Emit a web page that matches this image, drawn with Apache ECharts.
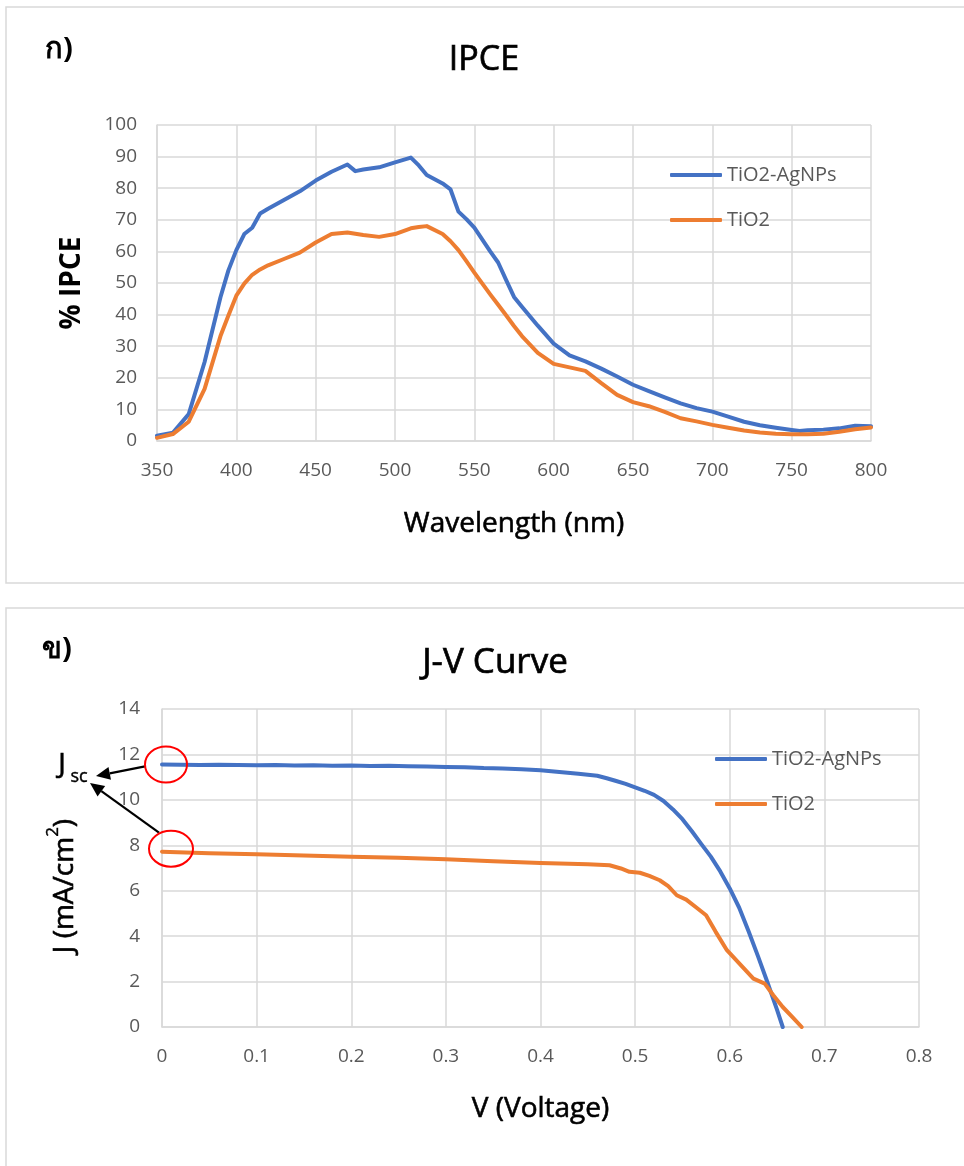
<!DOCTYPE html>
<html>
<head>
<meta charset="utf-8">
<script src="https://cdn.jsdelivr.net/npm/echarts@6/dist/echarts.min.js"></script>
<style>
  html, body { margin: 0; padding: 0; background: #ffffff; }
  #chart { width: 964px; height: 1166px; }
</style>
</head>
<body>
<div id="chart"></div>
<script>
// ---- IPCE spectra (% IPCE vs wavelength, nm) ----
const wavelength = [350, 360, 370, 380, 390, 395, 400, 405, 410, 415, 420, 430, 440, 450, 460, 470, 475, 480, 490, 500,
  510, 515, 520, 530, 535, 540, 545, 550, 560, 565, 570, 575, 580, 590, 600, 610, 620, 630, 640, 650,
  660, 670, 680, 690, 700, 710, 720, 730, 740, 750, 755, 760, 770, 780, 790, 800];
const ipceAgNPs = [1.7, 2.6, 8.5, 25.0, 45.5, 54.0, 60.4, 65.5, 67.5, 72.0, 73.5, 76.3, 79.0, 82.4, 85.2, 87.5, 85.4, 85.9, 86.6, 88.2,
  89.7, 87.2, 84.2, 81.5, 79.6, 72.6, 70.2, 67.5, 60.0, 56.5, 51.0, 45.6, 42.5, 36.5, 30.8, 27.1, 25.2, 22.9, 20.4, 17.8,
  15.8, 13.8, 11.9, 10.4, 9.3, 7.7, 6.1, 5.0, 4.2, 3.5, 3.2, 3.4, 3.6, 4.0, 4.8, 4.7];
const ipceTiO2 = [1.0, 2.2, 6.1, 16.5, 33.2, 39.7, 46.0, 49.8, 52.6, 54.3, 55.6, 57.6, 59.6, 62.8, 65.5, 66.0, 65.6, 65.2, 64.6, 65.5,
  67.3, 67.7, 68.0, 65.5, 63.2, 60.4, 56.9, 53.3, 46.4, 43.1, 39.8, 36.4, 33.2, 27.9, 24.4, 23.3, 22.2, 18.3, 14.6, 12.3,
  11.0, 9.2, 7.2, 6.2, 5.1, 4.2, 3.3, 2.7, 2.3, 2.1, 2.1, 2.1, 2.3, 2.9, 3.7, 4.3];

// ---- J-V curves (current density mA/cm2 vs voltage V) ----
const voltageAgNPs = [0, 0.02, 0.04, 0.06, 0.08, 0.10, 0.12, 0.14, 0.16, 0.18, 0.20, 0.22, 0.24, 0.26, 0.28, 0.30, 0.32, 0.34,
  0.36, 0.38, 0.40, 0.42, 0.44, 0.46, 0.47, 0.48, 0.49, 0.50, 0.51, 0.52, 0.53, 0.54, 0.55, 0.56, 0.57, 0.58, 0.59,
  0.60, 0.61, 0.62, 0.63, 0.64, 0.65, 0.656];
const currentAgNPs = [11.56, 11.55, 11.53, 11.55, 11.54, 11.52, 11.53, 11.51, 11.52, 11.50, 11.51, 11.49, 11.50, 11.48, 11.47, 11.45, 11.44, 11.40,
  11.38, 11.35, 11.30, 11.23, 11.15, 11.06, 10.95, 10.83, 10.70, 10.55, 10.40, 10.22, 9.95, 9.58, 9.15, 8.62, 8.05, 7.50, 6.85,
  6.10, 5.25, 4.20, 3.10, 1.95, 0.75, 0];
const voltageTiO2 = [0, 0.05, 0.10, 0.15, 0.20, 0.25, 0.30, 0.35, 0.40, 0.42, 0.45, 0.473, 0.485, 0.494, 0.505, 0.515, 0.526,
  0.535, 0.544, 0.554, 0.565, 0.575, 0.585, 0.597, 0.610, 0.625, 0.637, 0.646, 0.656, 0.666, 0.676];
const currentTiO2 = [7.72, 7.65, 7.60, 7.55, 7.50, 7.45, 7.38, 7.30, 7.22, 7.20, 7.17, 7.12, 6.98, 6.83, 6.79, 6.65, 6.46,
  6.20, 5.80, 5.61, 5.25, 4.92, 4.20, 3.38, 2.80, 2.13, 1.91, 1.40, 0.88, 0.45, 0];

const seriesNames = ['TiO2-AgNPs', 'TiO2'];
const BLUE = '#4472C4';
const ORANGE = '#ED7D31';
const GRID = '#D9D9D9';
const TICK = '#595959';
const FONT = '"Open Sans", "Noto Sans", sans-serif';

const pairs = (xs, ys) => xs.map((x, i) => [x, ys[i]]);

const chart = echarts.init(document.getElementById('chart'), null, { renderer: 'canvas' });

const tickLabel = (margin) => ({ color: TICK, fontSize: 19, fontFamily: FONT, margin: margin });
// a thin outline in the fill colour gives the medium-weight look of the titles
const axisName = (size, weight) => ({ color: '#000', fontSize: size, fontWeight: weight || 'normal', fontFamily: FONT,
  textBorderColor: '#000', textBorderWidth: weight === 'bold' ? 0 : 0.6 });

function valueAxis(opts) {
  return Object.assign({
    type: 'value',
    axisTick: { show: false },
    axisLine: { show: true, lineStyle: { color: GRID, width: 1.5 } },
    splitLine: { show: true, lineStyle: { color: GRID, width: 1.5 } },
    axisLabel: tickLabel(20),
    nameLocation: 'middle',
    nameTextStyle: axisName(28)
  }, opts);
}

function lineSeries(name, data, color, gridIdx) {
  return {
    name: name, type: 'line', xAxisIndex: gridIdx, yAxisIndex: gridIdx,
    data: data, showSymbol: false, symbol: 'none', smooth: false,
    lineStyle: { color: color, width: 4, cap: 'round', join: 'round' },
    itemStyle: { color: color }, z: 3
  };
}

function legendAt(left, top) {
  return {
    data: seriesNames, orient: 'vertical', left: left, top: top,
    icon: 'roundRect', itemWidth: 52, itemHeight: 4, itemGap: 21,
    selectedMode: false,
    textStyle: { color: TICK, fontSize: 20, fontFamily: FONT, lineHeight: 24, padding: [0, 0, 0, 0] }
  };
}

function label(id, text, x, y, size, weight, outline) {
  return {
    id: id, type: 'text', x: x, y: y, z: 10,
    style: { text: text, fill: '#000', font: (weight || 'normal') + ' ' + size + 'px ' + FONT,
      stroke: outline ? '#000' : null, lineWidth: outline || 0,
      textAlign: 'center', textVerticalAlign: 'middle' }
  };
}

chart.setOption({
  animation: false,
  backgroundColor: '#ffffff',
  grid: [
    { left: 157, top: 125, width: 714, height: 316 },
    { left: 162, top: 709, width: 757, height: 318 }
  ],
  xAxis: [
    valueAxis({ gridIndex: 0, min: 350, max: 800, interval: 50, name: 'Wavelength (nm)', nameGap: 69 }),
    valueAxis({ gridIndex: 1, min: 0, max: 0.8, interval: 0.1, name: 'V (Voltage)', nameGap: 68 })
  ],
  yAxis: [
    valueAxis({ gridIndex: 0, min: 0, max: 100, interval: 10, name: '% IPCE', nameGap: 71,
      nameTextStyle: axisName(28, 'bold') }),
    valueAxis({ gridIndex: 1, min: 0, max: 14, interval: 2, nameGap: 83,
      name: '{a|J (mA/cm}{s|2}{a|)}',
      nameTextStyle: {
        padding: [0, 36, 0, 0],
        rich: {
          a: { color: '#000', fontSize: 28, fontFamily: FONT, lineHeight: 34, verticalAlign: 'bottom',
            textBorderColor: '#000', textBorderWidth: 0.6 },
          s: { color: '#000', fontSize: 17, fontFamily: FONT, lineHeight: 34, verticalAlign: 'top', padding: [0, 0, 10, 0],
            textBorderColor: '#000', textBorderWidth: 0.4 }
        }
      },
      axisLabel: tickLabel(22) })
  ],
  legend: [legendAt(665, 158), legendAt(710, 742)],
  series: [
    lineSeries(seriesNames[0], pairs(wavelength, ipceAgNPs), BLUE, 0),
    lineSeries(seriesNames[1], pairs(wavelength, ipceTiO2), ORANGE, 0),
    lineSeries(seriesNames[0], pairs(voltageAgNPs, currentAgNPs), BLUE, 1),
    lineSeries(seriesNames[1], pairs(voltageTiO2, currentTiO2), ORANGE, 1)
  ],
  graphic: [
    { id: 'panelTop', type: 'rect', shape: { x: 6, y: 7, width: 990, height: 576 },
      style: { fill: 'none', stroke: '#D9D9D9', lineWidth: 1.5 }, z: 0 },
    { id: 'panelBottom', type: 'rect', shape: { x: 6, y: 608, width: 990, height: 600 },
      style: { fill: 'none', stroke: '#D9D9D9', lineWidth: 1.5 }, z: 0 },
    label('tagA', 'ก)', 59, 50, 29, 'bold'),
    label('tagB', 'ข)', 57, 650, 29, 'bold'),
    label('titleTop', 'IPCE', 484, 60, 34, 'normal', 0.7),
    label('titleBottom', 'J-V Curve', 495, 663, 35, 'normal', 0.7)
  ]
});

// Short-circuit current annotations: red rings at V = 0 on both curves, arrows to the Jsc label
const p1 = chart.convertToPixel({ gridIndex: 1 }, [voltageAgNPs[0], currentAgNPs[0]]);
const p2 = chart.convertToPixel({ gridIndex: 1 }, [voltageTiO2[0], currentTiO2[0]]);
const ring1 = { cx: p1[0] + 4, cy: p1[1], rx: 21, ry: 18 };
const ring2 = { cx: p2[0] + 9, cy: p2[1] - 3, rx: 22, ry: 18 };

function arrow(id, x1, y1, x2, y2) {
  const ang = Math.atan2(y2 - y1, x2 - x1);
  const L = 14, W = 6.5;
  const bx = x2 - L * Math.cos(ang), by = y2 - L * Math.sin(ang);
  const px = -Math.sin(ang) * W, py = Math.cos(ang) * W;
  return [
    { id: id + 'Line', type: 'line', shape: { x1: x1, y1: y1, x2: bx, y2: by },
      style: { stroke: '#000', lineWidth: 2.2 }, z: 11 },
    { id: id + 'Head', type: 'polygon', shape: { points: [[x2, y2], [bx + px, by + py], [bx - px, by - py]] },
      style: { fill: '#000' }, z: 11 }
  ];
}

chart.setOption({
  graphic: [
    { id: 'ring1', type: 'ellipse', shape: ring1, style: { fill: 'none', stroke: '#FF0000', lineWidth: 2 }, z: 12 },
    { id: 'ring2', type: 'ellipse', shape: ring2, style: { fill: 'none', stroke: '#FF0000', lineWidth: 2 }, z: 12 },
    { id: 'jscJ', type: 'text', x: 62, y: 765, z: 12,
      style: { text: 'J', fill: '#000', font: 'normal 28px ' + FONT, stroke: '#000', lineWidth: 0.6,
        textAlign: 'center', textVerticalAlign: 'middle' } },
    { id: 'jscSub', type: 'text', x: 79, y: 777, z: 12,
      style: { text: 'sc', fill: '#000', font: 'normal 18px ' + FONT, stroke: '#000', lineWidth: 0.4,
        textAlign: 'center', textVerticalAlign: 'middle' } },
    ...arrow('arrow1', ring1.cx - ring1.rx, ring1.cy + 2, 96, 776),
    ...arrow('arrow2', ring2.cx - ring2.rx + 10, ring2.cy - ring2.ry + 2, 90, 783)
  ]
});
</script>
</body>
</html>
